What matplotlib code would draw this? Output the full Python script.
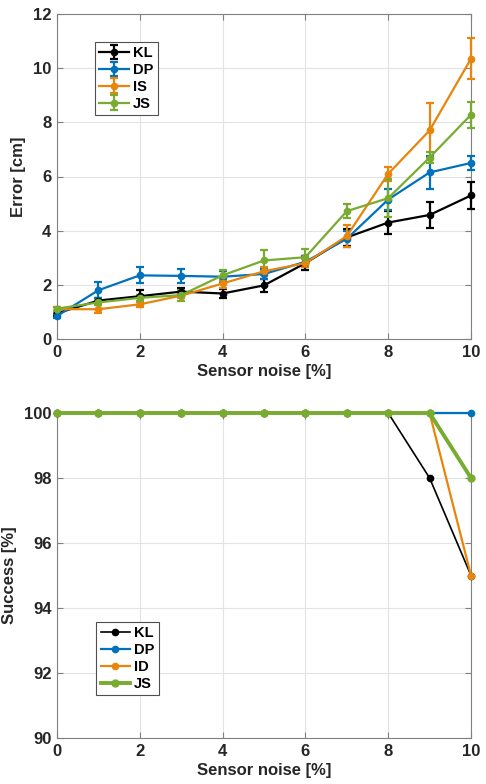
import matplotlib
matplotlib.use("Agg")
import matplotlib.pyplot as plt
import numpy as np

noise = [0, 1, 2, 3, 4, 5, 6, 7, 8, 9, 10]

err_KL = [0.95, 1.42, 1.58, 1.75, 1.68, 1.98, 2.80, 3.75, 4.30, 4.58, 5.30]
sd_KL = [0.10, 0.10, 0.22, 0.12, 0.18, 0.25, 0.25, 0.30, 0.42, 0.48, 0.50]
err_DP = [0.85, 1.80, 2.35, 2.33, 2.30, 2.40, 2.85, 3.70, 5.15, 6.15, 6.50]
sd_DP = [0.08, 0.30, 0.30, 0.25, 0.20, 0.20, 0.20, 0.30, 0.40, 0.60, 0.25]
err_IS = [1.10, 1.10, 1.28, 1.60, 2.05, 2.50, 2.80, 3.80, 6.10, 7.70, 10.35]
sd_IS = [0.10, 0.15, 0.10, 0.10, 0.15, 0.15, 0.15, 0.40, 0.25, 1.00, 0.75]
err_JS = [1.12, 1.35, 1.52, 1.62, 2.35, 2.90, 3.02, 4.72, 5.20, 6.70, 8.28]
sd_JS = [0.07, 0.10, 0.10, 0.20, 0.20, 0.40, 0.30, 0.25, 0.70, 0.20, 0.48]

succ_KL = [100, 100, 100, 100, 100, 100, 100, 100, 100, 98, 95]
succ_DP = [100, 100, 100, 100, 100, 100, 100, 100, 100, 100, 100]
succ_ID = [100, 100, 100, 100, 100, 100, 100, 100, 100, 100, 95]
succ_JS = [100, 100, 100, 100, 100, 100, 100, 100, 100, 100, 98]

C_K = "#000000"
C_B = "#0072BD"
C_O = "#E8850C"
C_G = "#77AC30"

plt.rcParams['font.family'] = ['Liberation Sans', 'DejaVu Sans']
plt.rcParams['font.weight'] = 'bold'

fig = plt.figure(figsize=(4.86, 7.84), dpi=100)
ax1 = fig.add_axes([57/486, 1-339/784, 414/486, 325/784])
ax2 = fig.add_axes([57/486, 1-738/784, 414/486, 325/784])

def style(ax):
    ax.grid(True, color="#e3e3e3", linewidth=0.8)
    ax.set_axisbelow(True)
    for s in ax.spines.values():
        s.set_color("#808080")
        s.set_linewidth(0.8)
    ax.tick_params(direction='in', top=True, right=True, length=4, width=0.8,
                   color="#808080", labelsize=12, pad=4, labelcolor="#262626")
    for lab in ax.get_xticklabels() + ax.get_yticklabels():
        lab.set_fontweight('bold')
    ax.set_xlim(0, 10)
    ax.set_xticks([0, 2, 4, 6, 8, 10])
    ax.set_xlabel("Sensor noise [%]", fontsize=12, fontweight='bold', color="#262626", labelpad=3)

series = [("KL", err_KL, sd_KL, C_K), ("DP", err_DP, sd_DP, C_B),
          ("IS", err_IS, sd_IS, C_O), ("JS", err_JS, sd_JS, C_G)]
for name, y, sd, c in series:
    ax1.errorbar(noise, y, yerr=sd, color=c, marker='o', markersize=4.5,
                 linewidth=1.6, elinewidth=1.6, capsize=3, capthick=1.6,
                 label=name, clip_on=False, zorder=3)
ax1.set_ylim(0, 12)
ax1.set_yticks([0, 2, 4, 6, 8, 10, 12])
style(ax1)
ax1.set_ylabel("Error [cm]", fontsize=12, fontweight='bold', color="#262626", labelpad=5)
leg1 = ax1.legend(loc='upper left', bbox_to_anchor=(0.092, 0.915), prop={'weight': 'bold', 'size': 10.5},
                  fancybox=False, edgecolor="#505050", framealpha=1, handlelength=2.0,
                  borderpad=0.3, labelspacing=0.2, handletextpad=0.3, borderaxespad=0)
leg1.get_frame().set_linewidth(0.8)

series2 = [("KL", succ_KL, C_K, 1.2), ("DP", succ_DP, C_B, 1.6),
           ("ID", succ_ID, C_O, 1.6), ("JS", succ_JS, C_G, 2.8)]
for name, y, c, lw in series2:
    ax2.plot(noise, y, color=c, marker='o', markersize=4.5 if name != "JS" else 5,
             linewidth=lw, label=name, clip_on=False, zorder=3)
ax2.set_ylim(90, 100)
ax2.set_yticks([90, 92, 94, 96, 98, 100])
style(ax2)
ax2.set_ylabel("Success [%]", fontsize=12, fontweight='bold', color="#262626", labelpad=5)
leg2 = ax2.legend(loc='upper left', bbox_to_anchor=(0.095, 0.357), prop={'weight': 'bold', 'size': 10.5},
                  fancybox=False, edgecolor="#505050", framealpha=1, handlelength=2.0,
                  borderpad=0.3, labelspacing=0.2, handletextpad=0.3, borderaxespad=0)
leg2.get_frame().set_linewidth(0.8)

fig.savefig("out.png", dpi=100)
